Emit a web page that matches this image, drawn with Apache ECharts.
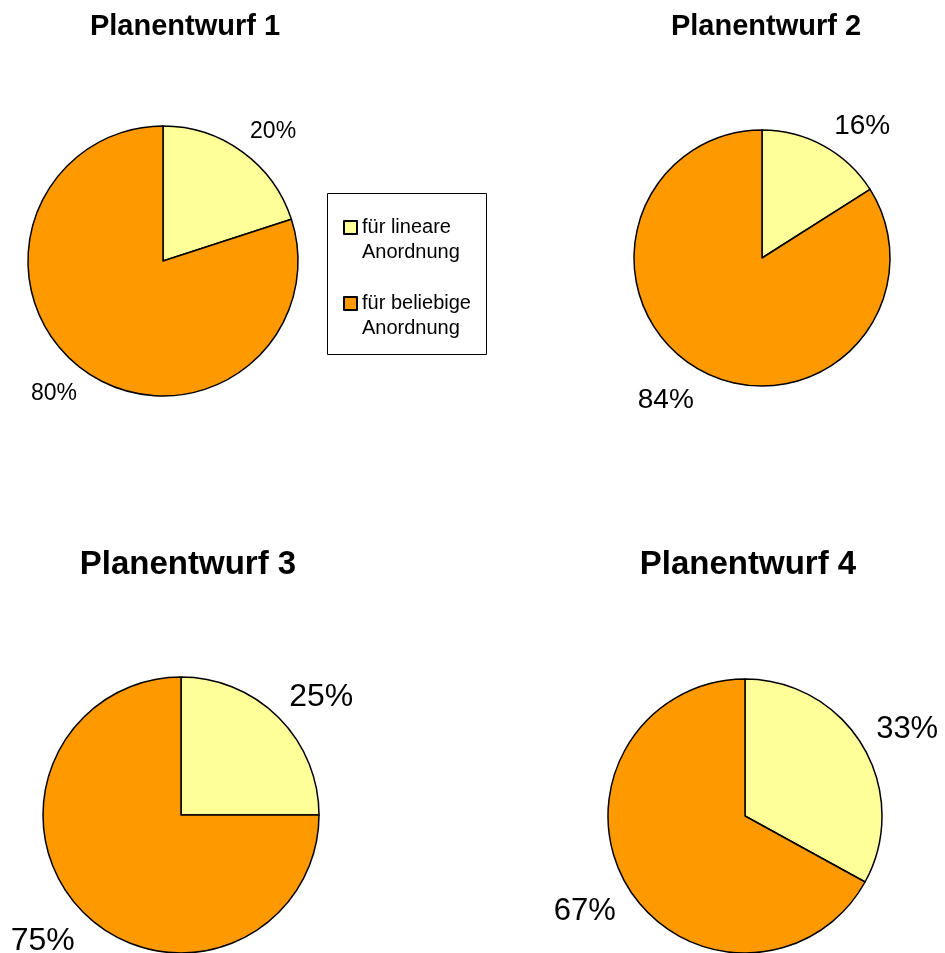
<!DOCTYPE html>
<html>
<head>
<meta charset="utf-8">
<title>Planentwurf</title>
<script src="https://cdn.jsdelivr.net/npm/echarts@6/dist/echarts.min.js"></script>
<style>
  html, body { margin: 0; padding: 0; background: #fff; }
  #container { width: 945px; height: 953px; }
</style>
</head>
<body>
<div id="container"></div>
<script>
  // Daten
  const titles = ['Planentwurf 1', 'Planentwurf 2', 'Planentwurf 3', 'Planentwurf 4'];
  const categories = ['für lineare Anordnung', 'für beliebige Anordnung'];
  const linear = [20, 16, 25, 33];
  const arbitrary = [80, 84, 75, 67];

  const font = 'Arial, "Liberation Sans", sans-serif';
  const colors = ['#FFFF99', '#FF9900'];

  // Lage der vier Kreise (Mitte, Radius, Schriftgroessen, Verschiebung der Beschriftung)
  const layout = [
    { cx: 163, cy: 261, r: 135, line: 25, label: 23, tx: 185, ty: 12, title: 29,
      shift: [[-12, 0], [13, 3]] },
    { cx: 762, cy: 258, r: 128, line: 26, label: 28, tx: 766, ty: 12, title: 29,
      shift: [[-7, 3], [11, 7]] },
    { cx: 181, cy: 815, r: 138, line: 25, label: 32, tx: 188, ty: 548, title: 33,
      shift: [[-12, -3], [14, 11]] },
    { cx: 745, cy: 816, r: 137, line: 20, label: 31, tx: 748, ty: 548, title: 33,
      shift: [[-9, -7], [11, 16]] }
  ];

  let myChart = echarts.init(document.getElementById('container'));

  let titleList = [];
  let seriesList = [];
  layout.forEach(function (p, i) {
    titleList.push({
      text: titles[i],
      left: p.tx,
      top: p.ty,
      padding: 0,
      textAlign: 'center',
      textStyle: {
        fontFamily: font,
        fontWeight: 'bold',
        fontSize: p.title,
        color: '#000'
      }
    });
    seriesList.push({
      type: 'pie',
      name: titles[i],
      center: [p.cx, p.cy],
      radius: p.r,
      startAngle: 90,
      clockwise: true,
      avoidLabelOverlap: false,
      animation: false,
      silent: true,
      itemStyle: {
        borderColor: '#000',
        borderWidth: 1.5
      },
      label: {
        show: true,
        position: 'outside',
        formatter: '{c}%',
        fontFamily: font,
        fontSize: p.label,
        color: '#000'
      },
      labelLine: {
        show: false,
        length: p.line,
        length2: 0
      },
      labelLayout: function (params) {
        let s = p.shift[params.dataIndex];
        return { dx: s[0], dy: s[1] };
      },
      data: [
        { name: categories[0], value: linear[i] },
        { name: categories[1], value: arbitrary[i] }
      ]
    });
  });

  let option = {
    backgroundColor: '#fff',
    color: colors,
    title: titleList,
    legend: {
      orient: 'vertical',
      left: 343,
      top: 190,
      padding: 0,
      itemGap: 1,
      itemWidth: 13,
      itemHeight: 13,
      icon: 'rect',
      selectedMode: false,
      data: categories,
      // leere erste Zeile, damit das Kaestchen neben der ersten Zeile steht
      formatter: function (name) {
        return '\n' + name.replace(' Anordnung', '\nAnordnung');
      },
      textStyle: {
        fontFamily: font,
        fontSize: 20,
        lineHeight: 25,
        color: '#000'
      }
    },
    // Rahmen um die Legende
    graphic: [{
      type: 'rect',
      shape: { x: 327.5, y: 193.5, width: 159, height: 161 },
      style: { fill: 'none', stroke: '#000', lineWidth: 1 },
      silent: true
    }],
    series: seriesList
  };

  if (option && typeof option === 'object') {
    myChart.setOption(option, true);
  }
</script>
</body>
</html>
